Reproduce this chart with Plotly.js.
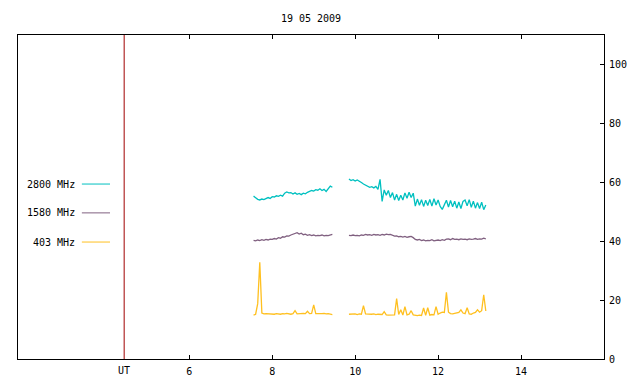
<!DOCTYPE html>
<html>
<head>
<meta charset="utf-8">
<script src="https://cdn.plot.ly/plotly-3.0.1.min.js"></script>
<style>html,body{margin:0;padding:0;background:#fff;}#chart{width:640px;height:384px;}</style>
</head>
<body>
<div id="chart"></div>
<script>
// Time (UT hours) of samples; a null value at 9.65 marks the data gap
const timeSeg1 = [7.55,7.60,7.65,7.70,7.75,7.80,7.85,7.90,7.95,8.00,
                  8.05,8.10,8.15,8.20,8.25,8.30,8.35,8.40,8.45,8.50,
                  8.55,8.60,8.65,8.70,8.75,8.80,8.85,8.90,8.95,9.00,
                  9.05,9.10,9.15,9.20,9.25,9.30,9.35,9.40,9.45];
const timeGap = [9.65];
const timeSeg2 = [9.85,9.90,9.95,10.00,10.05,10.10,10.15,10.20,10.25,10.30,10.35,10.40,10.45,10.50,10.55,
                  10.60,10.65,10.70,10.75,10.80,10.85,10.90,10.95,11.00,11.05,11.10,11.15,11.20,11.25,11.30,11.35,11.40,
                  11.45,11.50,11.55,11.60,11.65,11.70,11.75,11.80,11.85,11.90,11.95,12.00,
                  12.05,12.10,12.15,12.20,12.25,12.30,12.35,12.40,12.45,12.50,12.55,12.60,12.65,12.70,12.75,12.80,12.85,12.90,12.95,13.00,13.05,13.10,13.15];

const f2800Seg1 = [55.3,54.7,54.2,54.0,54.3,54.1,54.6,54.8,54.5,55.1,
                   55.0,55.4,55.2,55.6,55.3,56.3,56.7,56.4,56.5,56.0,
                   56.4,55.9,56.2,55.8,56.3,56.1,56.6,56.9,57.2,57.0,
                   57.5,57.3,57.8,57.2,57.6,56.9,57.9,58.7,58.3];
const f2800Seg2 = [61.1,60.6,60.9,60.4,60.8,60.2,59.9,59.4,59.0,58.6,58.3,58.5,58.1,58.6,57.6,
                   61.0,53.5,57.4,55.6,57.2,54.8,56.5,54.0,55.9,53.8,55.6,54.0,56.4,54.6,56.6,54.8,56.3,
                   51.9,54.3,52.2,54.1,51.8,53.9,52.1,54.2,51.9,54.4,52.3,54.0,
                   51.8,50.8,52.4,53.9,51.6,53.8,51.7,53.6,51.2,53.3,51.1,53.5,54.0,52.0,54.1,51.5,53.6,51.2,53.1,51.1,53.2,50.7,52.3];

const f1580Seg1 = [40.3,40.1,40.4,40.2,40.5,40.3,40.6,40.4,40.7,40.6,
                   40.9,40.7,41.2,41.0,41.5,41.4,41.8,41.7,42.1,42.3,
                   42.6,42.9,42.4,42.7,42.2,42.4,42.0,42.2,41.9,42.1,
                   41.8,42.0,41.9,42.1,41.8,42.0,41.9,42.2,42.3];
const f1580Seg2 = [42.0,41.9,42.1,41.9,42.0,41.8,42.1,42.0,42.3,42.1,42.2,42.0,42.3,42.1,42.2,
                   42.0,42.3,42.1,42.4,42.2,42.3,41.9,41.7,41.8,41.5,41.6,41.4,41.6,41.3,41.5,41.6,41.2,
                   40.6,40.4,40.6,40.2,40.4,40.1,40.3,40.2,40.5,40.1,40.3,40.4,
                   40.2,40.5,40.3,40.7,40.8,40.5,40.9,40.6,40.7,40.5,40.8,40.6,40.7,40.5,40.8,40.6,40.7,40.9,40.6,40.8,40.7,41.0,40.8];

const f403Seg1 = [14.9,15.2,18.8,32.8,15.6,15.3,15.4,15.3,15.4,15.3,
                  15.2,15.4,15.3,15.2,15.4,15.3,15.5,15.3,15.2,15.4,
                  16.4,15.3,15.4,15.3,15.5,15.4,16.2,15.4,15.5,18.4,
                  15.4,15.4,15.3,15.4,15.5,15.3,15.4,15.2,15.1];
const f403Seg2 = [15.2,15.3,15.2,15.3,15.1,15.3,15.2,18.1,15.3,15.2,15.3,15.2,15.3,15.1,15.2,
                  15.2,15.1,16.1,15.0,14.9,15.0,14.9,15.0,20.5,15.1,16.7,14.9,17.8,15.0,15.2,16.4,15.0,
                  14.8,14.7,14.9,14.8,17.3,14.8,17.4,14.9,15.1,15.0,17.8,15.2,
                  15.6,15.9,15.8,22.6,15.9,15.4,15.3,15.5,15.6,15.8,16.7,15.6,15.4,17.4,15.3,15.2,15.6,15.8,16.7,15.9,16.4,21.8,16.3];

const seriesNames = ['2800 MHz', '1580 MHz', '403 MHz'];
const seriesColors = ['#00c0c0', '#806080', '#ffc020'];
const xTicks = [6, 8, 10, 12, 14];
const yTicks = [0, 20, 40, 60, 80, 100];
const utTime = 4.43;
const titleText = '19 05 2009';

const times = timeSeg1.concat(timeGap, timeSeg2);
const values = [
  f2800Seg1.concat([null], f2800Seg2),
  f1580Seg1.concat([null], f1580Seg2),
  f403Seg1.concat([null], f403Seg2)
];

const FONT = {family: 'DejaVu Sans Mono', size: 10, color: '#000'};

const traces = values.map((v, i) => ({
  x: times, y: v, type: 'scatter', mode: 'lines', name: seriesNames[i],
  line: {color: seriesColors[i], width: 1.3}, connectgaps: false, showlegend: false,
  hoverinfo: 'skip'
}));

// legend drawn as text + sample line
const legY = [0.540, 0.451, 0.361];
const annotations = seriesNames.map((n, i) => ({
  text: n, xref: 'paper', yref: 'paper', x: 0.101, y: legY[i],
  xanchor: 'right', yanchor: 'middle', showarrow: false, font: FONT
}));
annotations.push({text: 'UT', xref: 'x', yref: 'paper', x: utTime, y: 0,
  xanchor: 'center', yanchor: 'top', yshift: -4, showarrow: false, font: FONT});

const shapes = seriesNames.map((n, i) => ({
  type: 'line', xref: 'paper', yref: 'paper', x0: 0.109, x1: 0.157, y0: legY[i], y1: legY[i],
  line: {color: seriesColors[i], width: 1}
}));
shapes.push({type: 'line', xref: 'x', yref: 'paper', x0: utTime, x1: utTime, y0: 0, y1: 1,
  line: {color: '#a00000', width: 1}, layer: 'above'});

const layout = {
  width: 640, height: 384,
  margin: {l: 18, r: 36, t: 35, b: 25, pad: 0},
  paper_bgcolor: '#fff', plot_bgcolor: '#fff',
  font: FONT,
  title: {text: titleText, font: FONT, x: 0.5, xref: 'paper', xanchor: 'center',
          y: 1 - 18/384, yref: 'container', yanchor: 'middle'},
  showlegend: false,
  xaxis: {range: [1.87, 16.0], tickvals: xTicks, ticktext: xTicks.map(String),
          ticks: 'inside', ticklen: 4, tickcolor: '#000', tickwidth: 1,
          showline: true, linecolor: '#000', linewidth: 1, mirror: 'ticks',
          showgrid: false, zeroline: false, tickfont: FONT, fixedrange: true,
          ticklabelstandoff: 3},
  yaxis: {range: [0, 110], side: 'right', tickvals: yTicks, ticktext: yTicks.map(String),
          ticks: 'inside', ticklen: 4, tickcolor: '#000', tickwidth: 1,
          showline: true, linecolor: '#000', linewidth: 1, mirror: true,
          showgrid: false, zeroline: false, tickfont: FONT, fixedrange: true,
          ticklabelstandoff: 2},
  annotations: annotations,
  shapes: shapes
};

Plotly.newPlot('chart', traces, layout, {displayModeBar: false, staticPlot: true});
</script>
</body>
</html>
